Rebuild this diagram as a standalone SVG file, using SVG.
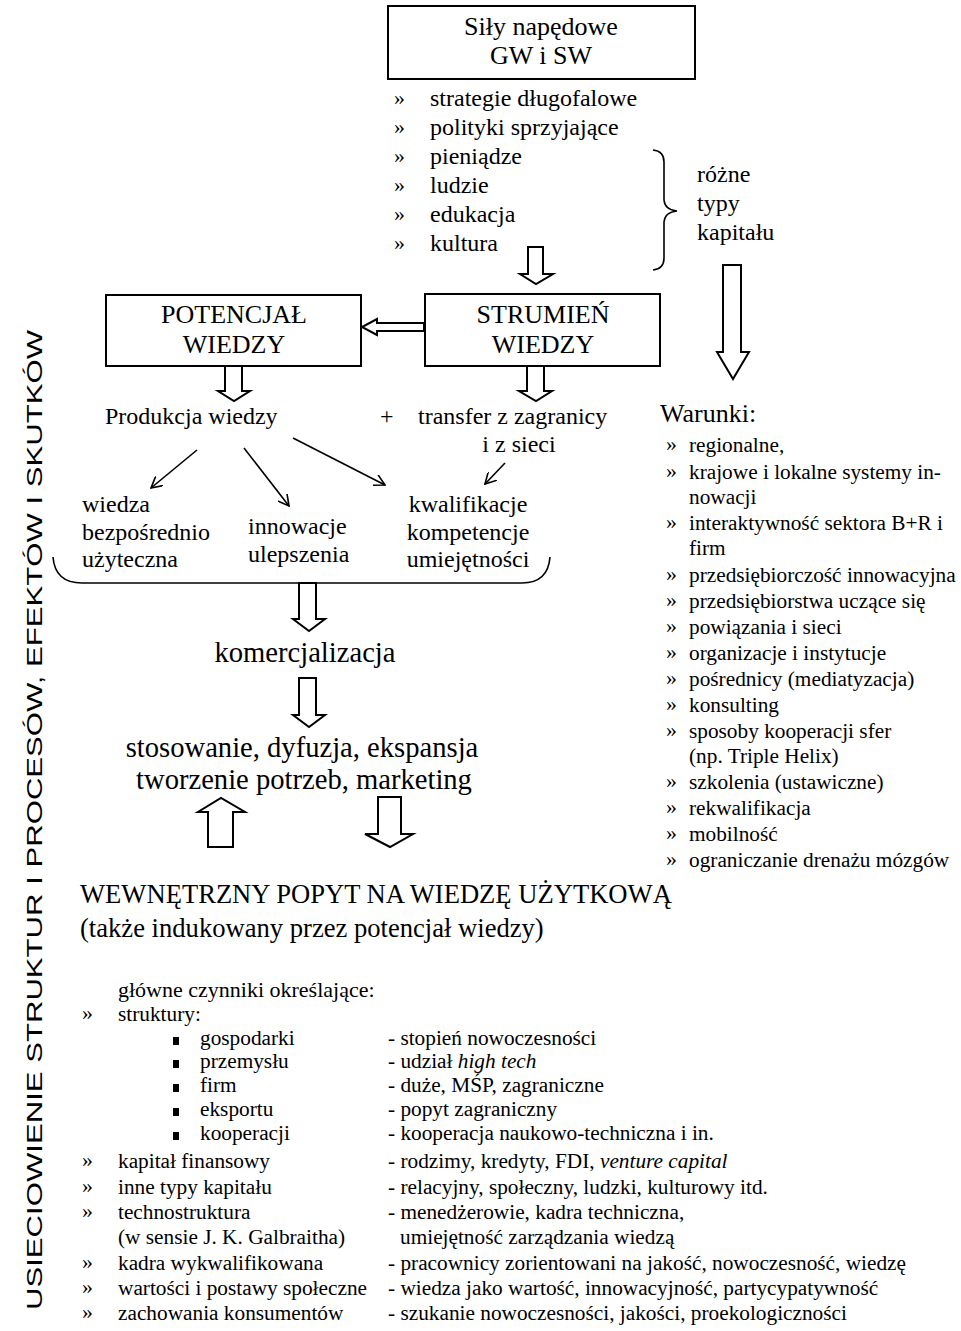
<svg xmlns="http://www.w3.org/2000/svg" width="961" height="1331" viewBox="0 0 961 1331">
<defs>
<style>
text{font-family:"Liberation Serif","Times New Roman",serif;fill:#000}
.t26{font-size:26px}
.t266{font-size:26.6px}
.t24{font-size:24px}
.t22{font-size:22px}
.t28{font-size:28.6px}
.t21{font-size:21.3px}
.q{font-size:22px}
.mid{text-anchor:middle}
.box{fill:#fff;stroke:#000;stroke-width:2}
.blk{fill:#fff;stroke:#000;stroke-width:2;stroke-linejoin:miter}
.ln{fill:none;stroke:#000;stroke-width:1.6}
.side{font-family:"Liberation Sans",Arial,sans-serif;font-size:22px}
</style>
<marker id="v" viewBox="0 0 12 12" refX="11" refY="6" markerWidth="12" markerHeight="12" markerUnits="userSpaceOnUse" orient="auto">
<path d="M0,0 L11,6 L0,12" fill="none" stroke="#000" stroke-width="1.6"/>
</marker>
</defs>

<g id="sidebar">
<text class="side mid" transform="translate(42,820) rotate(-90)" textLength="980" lengthAdjust="spacingAndGlyphs">USIECIOWIENIE STRUKTUR I PROCESÓW, EFEKTÓW I SKUTKÓW</text>
</g>

<g id="sily">
<rect class="box" x="388" y="6" width="307" height="73"/>
<text class="t26 mid" x="541" y="35">Siły napędowe</text>
<text class="t26 mid" x="541" y="64">GW i SW</text>
</g>

<g id="sily-list">
<text class="q" x="394" y="105">»</text><text class="t24" x="430" y="106">strategie długofalowe</text>
<text class="q" x="394" y="134">»</text><text class="t24" x="430" y="135">polityki sprzyjające</text>
<text class="q" x="394" y="163">»</text><text class="t24" x="430" y="164">pieniądze</text>
<text class="q" x="394" y="192">»</text><text class="t24" x="430" y="193">ludzie</text>
<text class="q" x="394" y="221">»</text><text class="t24" x="430" y="222">edukacja</text>
<text class="q" x="394" y="250">»</text><text class="t24" x="430" y="251">kultura</text>
</g>

<g id="kapital">
<path class="ln" d="M653,150 Q664,151 664,162 L664,200 Q665,210 677,211 Q665,212 664,222 L664,258 Q664,269 653,270"/>
<text class="t24" x="697" y="182">różne</text>
<text class="t24" x="697" y="211">typy</text>
<text class="t24" x="697" y="240">kapitału</text>
</g>

<g id="potencjal">
<rect class="box" x="106" y="295" width="255" height="71"/>
<text class="t26 mid" x="234" y="323">POTENCJAŁ</text>
<text class="t26 mid" x="234" y="353">WIEDZY</text>
</g>

<g id="strumien">
<rect class="box" x="425" y="294" width="235" height="72"/>
<text class="t26 mid" x="543" y="323">STRUMIEŃ</text>
<text class="t26 mid" x="543" y="353">WIEDZY</text>
</g>

<g id="produkcja">
<text class="t24" x="105" y="424">Produkcja wiedzy</text>
</g>
<g id="plus"><text class="t24" x="380" y="424">+</text></g>
<g id="transfer">
<text class="t24" x="418" y="424">transfer z zagranicy</text>
<text class="t24 mid" x="519" y="452">i z sieci</text>
</g>

<g id="wiedza">
<text class="t24" x="82" y="512">wiedza</text>
<text class="t24" x="82" y="540">bezpośrednio</text>
<text class="t24" x="82" y="567">użyteczna</text>
</g>
<g id="innowacje">
<text class="t24" x="248" y="534">innowacje</text>
<text class="t24" x="248" y="562">ulepszenia</text>
</g>
<g id="kwalifikacje">
<text class="t24 mid" x="468" y="512">kwalifikacje</text>
<text class="t24 mid" x="468" y="540">kompetencje</text>
<text class="t24 mid" x="468" y="567">umiejętności</text>
</g>

<g id="brace-bottom">
<path class="ln" d="M53,557 Q55,583 82,583 L522,583 Q548,583 550,557"/>
</g>

<g id="komercjalizacja">
<text class="t28 mid" x="305" y="662">komercjalizacja</text>
</g>
<g id="stosowanie">
<text class="t28 mid" x="302" y="757">stosowanie, dyfuzja, ekspansja</text>
<text class="t28 mid" x="304" y="789">tworzenie potrzeb, marketing</text>
</g>

<g id="warunki">
<text class="t26" x="660" y="422">Warunki:</text>
<text class="q" x="666" y="451">»</text><text class="t21" x="689" y="452">regionalne,</text>
<text class="q" x="666" y="478">»</text><text class="t21" x="689" y="479">krajowe i lokalne systemy in-</text>
<text class="t21" x="689" y="504">nowacji</text>
<text class="q" x="666" y="529">»</text><text class="t21" x="689" y="530">interaktywność sektora B+R i</text>
<text class="t21" x="689" y="555">firm</text>
<text class="q" x="666" y="581">»</text><text class="t21" x="689" y="582">przedsiębiorczość innowacyjna</text>
<text class="q" x="666" y="607">»</text><text class="t21" x="689" y="608">przedsiębiorstwa uczące się</text>
<text class="q" x="666" y="633">»</text><text class="t21" x="689" y="634">powiązania i sieci</text>
<text class="q" x="666" y="659">»</text><text class="t21" x="689" y="660">organizacje i instytucje</text>
<text class="q" x="666" y="685">»</text><text class="t21" x="689" y="686">pośrednicy (mediatyzacja)</text>
<text class="q" x="666" y="711">»</text><text class="t21" x="689" y="712">konsulting</text>
<text class="q" x="666" y="737">»</text><text class="t21" x="689" y="738">sposoby kooperacji sfer</text>
<text class="t21" x="689" y="763">(np. Triple Helix)</text>
<text class="q" x="666" y="788">»</text><text class="t21" x="689" y="789">szkolenia (ustawiczne)</text>
<text class="q" x="666" y="814">»</text><text class="t21" x="689" y="815">rekwalifikacja</text>
<text class="q" x="666" y="840">»</text><text class="t21" x="689" y="841">mobilność</text>
<text class="q" x="666" y="866">»</text><text class="t21" x="689" y="867">ograniczanie drenażu mózgów</text>
</g>

<g id="popyt">
<text class="t266" x="80" y="903">WEWNĘTRZNY POPYT NA WIEDZĘ UŻYTKOWĄ</text>
<text class="t266" x="80" y="937">(także indukowany przez potencjał wiedzy)</text>
</g>

<g id="czynniki">
<text class="t22" x="118" y="997">główne czynniki określające:</text>
<text class="q" x="82" y="1020">»</text><text class="t21" x="118" y="1021">struktury:</text>
<rect x="173" y="1037" width="6" height="8"/><text class="t21" x="200" y="1045">gospodarki</text><text class="t21" x="388" y="1045">- stopień nowoczesności</text>
<rect x="173" y="1060" width="6" height="8"/><text class="t21" x="200" y="1068">przemysłu</text><text class="t21" x="388" y="1068">- udział <tspan font-style="italic">high tech</tspan></text>
<rect x="173" y="1084" width="6" height="8"/><text class="t21" x="200" y="1092">firm</text><text class="t21" x="388" y="1092">- duże, MŚP, zagraniczne</text>
<rect x="173" y="1108" width="6" height="8"/><text class="t21" x="200" y="1116">eksportu</text><text class="t21" x="388" y="1116">- popyt zagraniczny</text>
<rect x="173" y="1132" width="6" height="8"/><text class="t21" x="200" y="1140">kooperacji</text><text class="t21" x="388" y="1140">- kooperacja naukowo-techniczna i in.</text>
<text class="q" x="82" y="1167">»</text><text class="t21" x="118" y="1168">kapitał finansowy</text><text class="t21" x="388" y="1168">- rodzimy, kredyty, FDI, <tspan font-style="italic">venture capital</tspan></text>
<text class="q" x="82" y="1193">»</text><text class="t21" x="118" y="1194">inne typy kapitału</text><text class="t21" x="388" y="1194">- relacyjny, społeczny, ludzki, kulturowy itd.</text>
<text class="q" x="82" y="1218">»</text><text class="t21" x="118" y="1219">technostruktura</text><text class="t21" x="388" y="1219">- menedżerowie, kadra techniczna,</text>
<text class="t21" x="118" y="1244">(w sensie J. K. Galbraitha)</text><text class="t21" x="400" y="1244">umiejętność zarządzania wiedzą</text>
<text class="q" x="82" y="1269">»</text><text class="t21" x="118" y="1270">kadra wykwalifikowana</text><text class="t21" x="388" y="1270">- pracownicy zorientowani na jakość, nowoczesność, wiedzę</text>
<text class="q" x="82" y="1294">»</text><text class="t21" x="118" y="1295">wartości i postawy społeczne</text><text class="t21" x="388" y="1295">- wiedza jako wartość, innowacyjność, partycypatywność</text>
<text class="q" x="82" y="1319">»</text><text class="t21" x="118" y="1320">zachowania konsumentów</text><text class="t21" x="388" y="1320">- szukanie nowoczesności, jakości, proekologiczności</text>
</g>

<g id="connectors">
<polygon class="blk" points="528,247 543,247 543,274 553,274 536,284 520,274 528,274"/>
<polygon class="blk" points="424,323 377,323 377,319 362,327 377,335 377,331 424,331"/>
<polygon class="blk" points="225,366 242,366 242,391 250,391 234,401 218,391 225,391"/>
<polygon class="blk" points="527,366 544,366 544,391 552,391 536,401 519,391 527,391"/>
<polygon class="blk" points="723,265 741,265 741,352 749,352 733,379 717,352 723,352"/>
<polygon class="blk" points="299,583 316,583 316,619 325,619 309,631 293,619 299,619"/>
<polygon class="blk" points="299,678 316,678 316,715 325,715 309,727 293,715 299,715"/>
<polygon class="blk" points="208,847 233,847 233,812 245,812 221,798 198,812 208,812"/>
<polygon class="blk" points="378,797 401,797 401,834 413,834 390,847 365,834 378,834"/>
<line class="ln" x1="197" y1="450" x2="151" y2="488" marker-end="url(#v)"/>
<line class="ln" x1="244" y1="448" x2="289" y2="506" marker-end="url(#v)"/>
<line class="ln" x1="293" y1="438" x2="385" y2="485" marker-end="url(#v)"/>
<line class="ln" x1="505" y1="463" x2="485" y2="484" marker-end="url(#v)"/>
</g>
</svg>
